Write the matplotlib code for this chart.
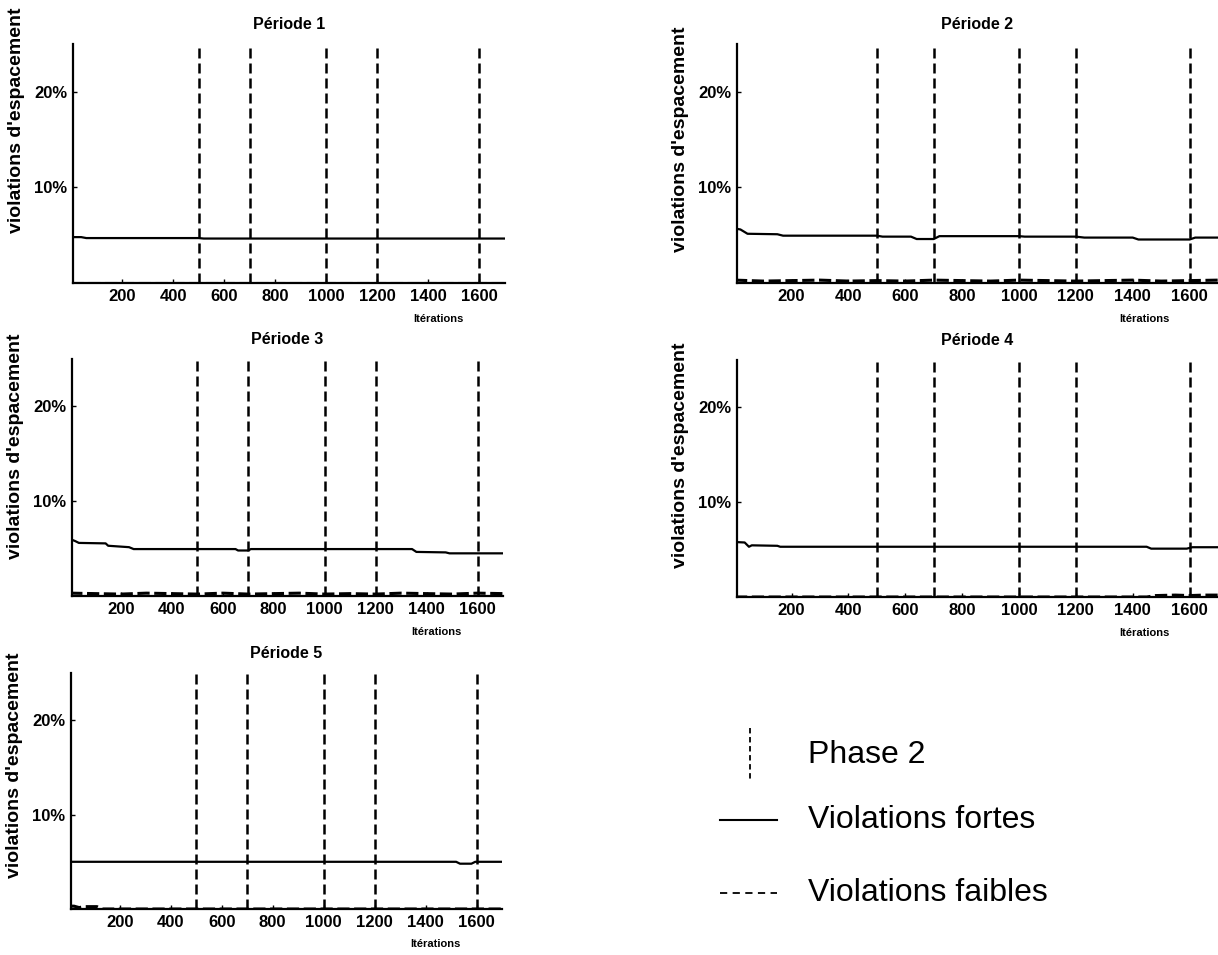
#!/usr/bin/env python3
"""
Violations d'espacement par période (5 panneaux) avec repères de la phase 2.
"""

import matplotlib
matplotlib.use("Agg")
import matplotlib.pyplot as plt
from matplotlib.lines import Line2D

plt.rcParams["font.family"] = ["Liberation Sans", "DejaVu Sans"]

OUTPUT_FILE = "out.png"

TITLES = ["Période 1", "Période 2", "Période 3", "Période 4", "Période 5"]
X_TICKS = [200, 400, 600, 800, 1000, 1200, 1400, 1600]
Y_TICKS = [10, 20]
Y_TICK_LABELS = ["10%", "20%"]
PHASE2 = [500, 700, 1000, 1200, 1600]

# Violations fortes (%)
FORTES_X = [
    [1, 40, 60, 500, 520, 1700],
    [1, 20, 45, 150, 170, 500, 520, 620, 640, 700, 720, 1000, 1020, 1200, 1230, 1400, 1420, 1600, 1620, 1700],
    [1, 20, 35, 140, 150, 232, 250, 650, 660, 700, 710, 1343, 1360, 1475, 1490, 1700],
    [1, 35, 50, 60, 150, 160, 1449, 1465, 1590, 1610, 1700],
    [1, 1520, 1535, 1580, 1595, 1700],
]
FORTES_Y = [
    [4.8, 4.8, 4.7, 4.7, 4.65, 4.65],
    [5.7, 5.6, 5.15, 5.1, 4.95, 4.95, 4.85, 4.85, 4.6, 4.6, 4.9, 4.9, 4.85, 4.85, 4.75, 4.75, 4.55, 4.55, 4.75, 4.75],
    [6.0, 5.8, 5.6, 5.55, 5.3, 5.15, 4.95, 4.95, 4.8, 4.8, 4.95, 4.95, 4.65, 4.6, 4.5, 4.5],
    [5.8, 5.75, 5.3, 5.45, 5.4, 5.3, 5.3, 5.1, 5.1, 5.25, 5.25],
    [5.0, 5.0, 4.8, 4.8, 5.0, 5.0],
]

# Violations faibles (%)
FAIBLES_X = [
    [1, 1700],
    [1, 100, 200, 300, 400, 500, 600, 700, 800, 900, 1000, 1100, 1200, 1300, 1400, 1500, 1600, 1700],
    [1, 100, 200, 300, 400, 500, 600, 700, 800, 900, 1000, 1100, 1200, 1300, 1400, 1500, 1600, 1700],
    [1, 1450, 1480, 1550, 1600, 1650, 1700],
    [1, 20, 40, 60, 110, 130, 1700],
]
FAIBLES_Y = [
    [0.0, 0.0],
    [0.3, 0.2, 0.25, 0.3, 0.2, 0.25, 0.2, 0.3, 0.25, 0.2, 0.3, 0.25, 0.2, 0.25, 0.3, 0.2, 0.25, 0.3],
    [0.3, 0.25, 0.2, 0.3, 0.25, 0.2, 0.3, 0.2, 0.25, 0.3, 0.2, 0.25, 0.2, 0.3, 0.25, 0.2, 0.3, 0.25],
    [0.0, 0.0, 0.15, 0.2, 0.15, 0.2, 0.2],
    [0.3, 0.3, 0.15, 0.25, 0.25, 0.0, 0.0],
]

# axes boxes in pixels: left, top, right, bottom (figure is 1218 x 955)
BOXES = [
    (73, 44, 505, 283),
    (737, 44, 1218, 283),
    (72, 359, 503, 596),
    (737, 360, 1218, 597),
    (71, 673, 502, 909),
]
YLABEL_Y = [0.68, 0.60, 0.63, 0.60, 0.61]

W, H = 1218, 955
VDASH = (0, (4, 2))


def draw_panel(fig, i):
    left, top, right, bottom = BOXES[i]
    ax = fig.add_axes([left / W, 1 - bottom / H, (right - left) / W, (bottom - top) / H])

    for x in PHASE2:
        ax.axvline(x, color="black", lw=1.8, linestyle=VDASH, zorder=1)
    ax.plot(FORTES_X[i], FORTES_Y[i], color="black", lw=1.6, zorder=3)
    ax.plot(FAIBLES_X[i], FAIBLES_Y[i], color="black", lw=2.2, linestyle=(0, (4, 1.5)), zorder=3)

    ax.set_xlim(8, 1700)
    ax.set_ylim(0, 25)
    ax.set_xticks(X_TICKS)
    ax.set_yticks(Y_TICKS)
    ax.set_yticklabels(Y_TICK_LABELS)
    ax.tick_params(direction="in", length=3, width=1, labelsize=12, pad=4)
    for lab in ax.get_xticklabels() + ax.get_yticklabels():
        lab.set_fontweight("bold")

    for side in ["top", "right"]:
        ax.spines[side].set_visible(False)
    for side in ["left", "bottom"]:
        ax.spines[side].set_linewidth(1.6)

    ax.set_title(TITLES[i], fontsize=11.5, fontweight="bold", pad=11)
    ax.set_ylabel("violations d'espacement", fontsize=14, fontweight="bold")
    ax.yaxis.set_label_coords(-48 / (right - left), YLABEL_Y[i])
    ax.text(1440, -0.15, "Itérations", transform=ax.get_xaxis_transform(),
            ha="center", va="center", fontsize=8, fontweight="bold")
    return ax


def draw_legend(fig):
    lax = fig.add_axes([0, 0, 1, 1])
    lax.set_xlim(0, W)
    lax.set_ylim(H, 0)
    lax.axis("off")

    lax.add_line(Line2D([750, 750], [728, 780], color="black", lw=1.3, linestyle=(0, (3, 2))))
    lax.add_line(Line2D([720, 777], [820, 820], color="black", lw=1.5))
    lax.add_line(Line2D([720, 777], [893, 893], color="black", lw=1.3, linestyle=(0, (4, 3))))

    lax.text(808, 755, "Phase 2", fontsize=23, va="center", ha="left")
    lax.text(808, 820, "Violations fortes", fontsize=23, va="center", ha="left")
    lax.text(808, 893, "Violations faibles", fontsize=23, va="center", ha="left")


def main():
    fig = plt.figure(figsize=(W / 100, H / 100), dpi=100)
    for i in range(len(TITLES)):
        draw_panel(fig, i)
    draw_legend(fig)
    fig.savefig(OUTPUT_FILE, dpi=100)
    plt.close(fig)


if __name__ == "__main__":
    main()
